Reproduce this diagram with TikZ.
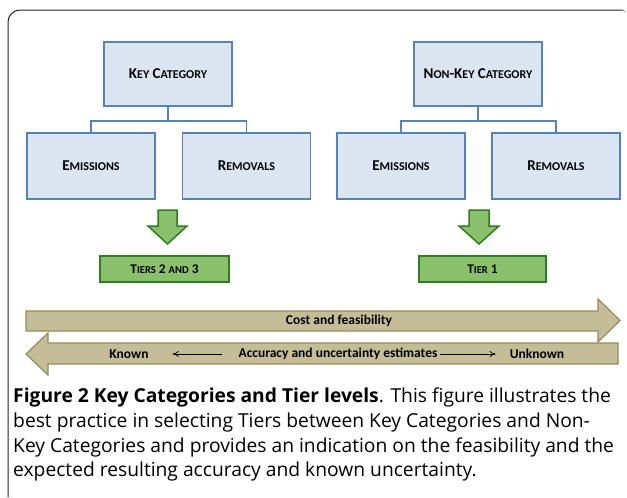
\documentclass[tikz,border=0pt]{standalone}
\usepackage{fontspec}
\setmainfont{Carlito}
\newfontfamily\capfont{Open Sans}
\usetikzlibrary{arrows.meta}
\newcommand\SCx[1]{{\fontsize{12}{14}\selectfont #1}}
\newcommand\SCy[1]{{\fontsize{10.6}{12}\selectfont #1}}
\definecolor{bluefill}{RGB}{220,230,242}
\definecolor{blueline}{RGB}{84,130,185}
\definecolor{greenfill}{RGB}{138,192,108}
\definecolor{greenline}{RGB}{46,125,34}
\definecolor{tanfill}{RGB}{196,189,151}
\definecolor{tanline}{RGB}{150,140,90}
\tikzset{
  bluebox/.style={draw=blueline, fill=bluefill, line width=1.8pt, minimum width=128pt, minimum height=64pt, inner sep=0pt, font=\fontsize{15}{17}\selectfont\bfseries},
  greenbox/.style={draw=greenline, fill=greenfill, line width=1.6pt, minimum width=128pt, minimum height=26pt, inner sep=0pt, font=\fontsize{13.3}{15}\selectfont\bfseries},
  conn/.style={draw=blueline, line width=1.8pt},
  garrow/.style={draw=greenline, fill=greenfill, line width=1.5pt, line join=miter},
  tanarrow/.style={draw=tanline, fill=tanfill, line width=1.2pt, line join=miter},
  tantext/.style={font=\fontsize{13.5}{15}\selectfont\bfseries, inner sep=0pt},
  thin/.style={-{To[length=6pt,width=6pt]}, line width=0.7pt},
  captext/.style={anchor=base west, inner sep=0pt, font=\capfont\fontsize{19.25}{24}\selectfont},
  frameline/.style={draw=black!85, line width=1pt}
}
\begin{document}
\begin{tikzpicture}[x=1pt,y=-1pt]
\useasboundingbox (0,0) rectangle (627,498);
\fill[white] (0,0) rectangle (627,498);
\draw[frameline, rounded corners=12pt] (623,10) -- (8,10) -- (8,497);
\draw[black!40, line width=0.8pt] (622.5,10) -- (625,12);

% left tree
\node[bluebox] (key) at (168,74) {K\SCx{EY} C\SCx{ATEGORY}};
\node[bluebox, minimum height=66pt] (emL) at (91,166) {E\SCx{MISSIONS}};
\node[bluebox, minimum height=66pt] (remL) at (246.5,166) {R\SCx{EMOVALS}};
\draw[conn] (key.south) -- ++(0,14) coordinate (kj);
\draw[conn] (kj) -| (emL.north);
\draw[conn] (kj) -| (remL.north);

% right tree
\node[bluebox] (nkey) at (478,74) {N\SCx{ON}-K\SCx{EY} C\SCx{ATEGORY}};
\node[bluebox, minimum height=66pt] (emR) at (401,166) {E\SCx{MISSIONS}};
\node[bluebox, minimum height=66pt] (remR) at (556,166) {R\SCx{EMOVALS}};
\draw[conn] (nkey.south) -- ++(0,14) coordinate (nj);
\draw[conn] (nj) -| (emR.north);
\draw[conn] (nj) -| (remR.north);

% green arrows
\draw[garrow] (158,210) -- (177,210) -- (177,226) -- (187,226) -- (167.5,244) -- (148,226) -- (158,226) -- cycle;
\draw[garrow] (469,210) -- (489,210) -- (489,226) -- (499,226) -- (479,244) -- (459,226) -- (469,226) -- cycle;

\node[greenbox, minimum width=129pt] (t23) at (164.5,269) {T\SCy{IERS} 2 \SCy{AND} 3};
\node[greenbox, minimum width=127pt] (t1) at (482.5,269) {T\SCy{IER} 1};

% tan arrows
\draw[tanarrow] (26,311) -- (598,311) -- (598,299) -- (620,320.5) -- (598,342) -- (598,331) -- (26,331) -- cycle;
\draw[tanarrow] (618,343) -- (48,343) -- (48,333) -- (26,354) -- (48,375) -- (48,364) -- (618,364) -- cycle;

\node[tantext] (cost) at (339,321) {Cost and feasibility};
\node[tantext] (known) at (129,354) {Known};
\node[tantext] (acc) at (338,354) {Accuracy and uncertainty estimates};
\node[tantext] (unk) at (537,354) {Unknown};
\draw[thin] ([xshift=-16pt]acc.west) -- ([xshift=24pt]known.east);
\draw[thin] ([xshift=2pt]acc.east) -- ([xshift=-14pt]unk.west);

% caption
\node[captext] (c1) at (13,402) {\textbf{Figure 2 Key Categories and Tier levels}. This figure illustrates the};
\node[captext] (c2) at (13,427) {best practice in selecting Tiers between Key Categories and Non-};
\node[captext] (c3) at (13,452) {Key Categories and provides an indication on the feasibility and the};
\node[captext] (c4) at (13,476) {expected resulting accuracy and known uncertainty.};
\end{tikzpicture}
\end{document}
